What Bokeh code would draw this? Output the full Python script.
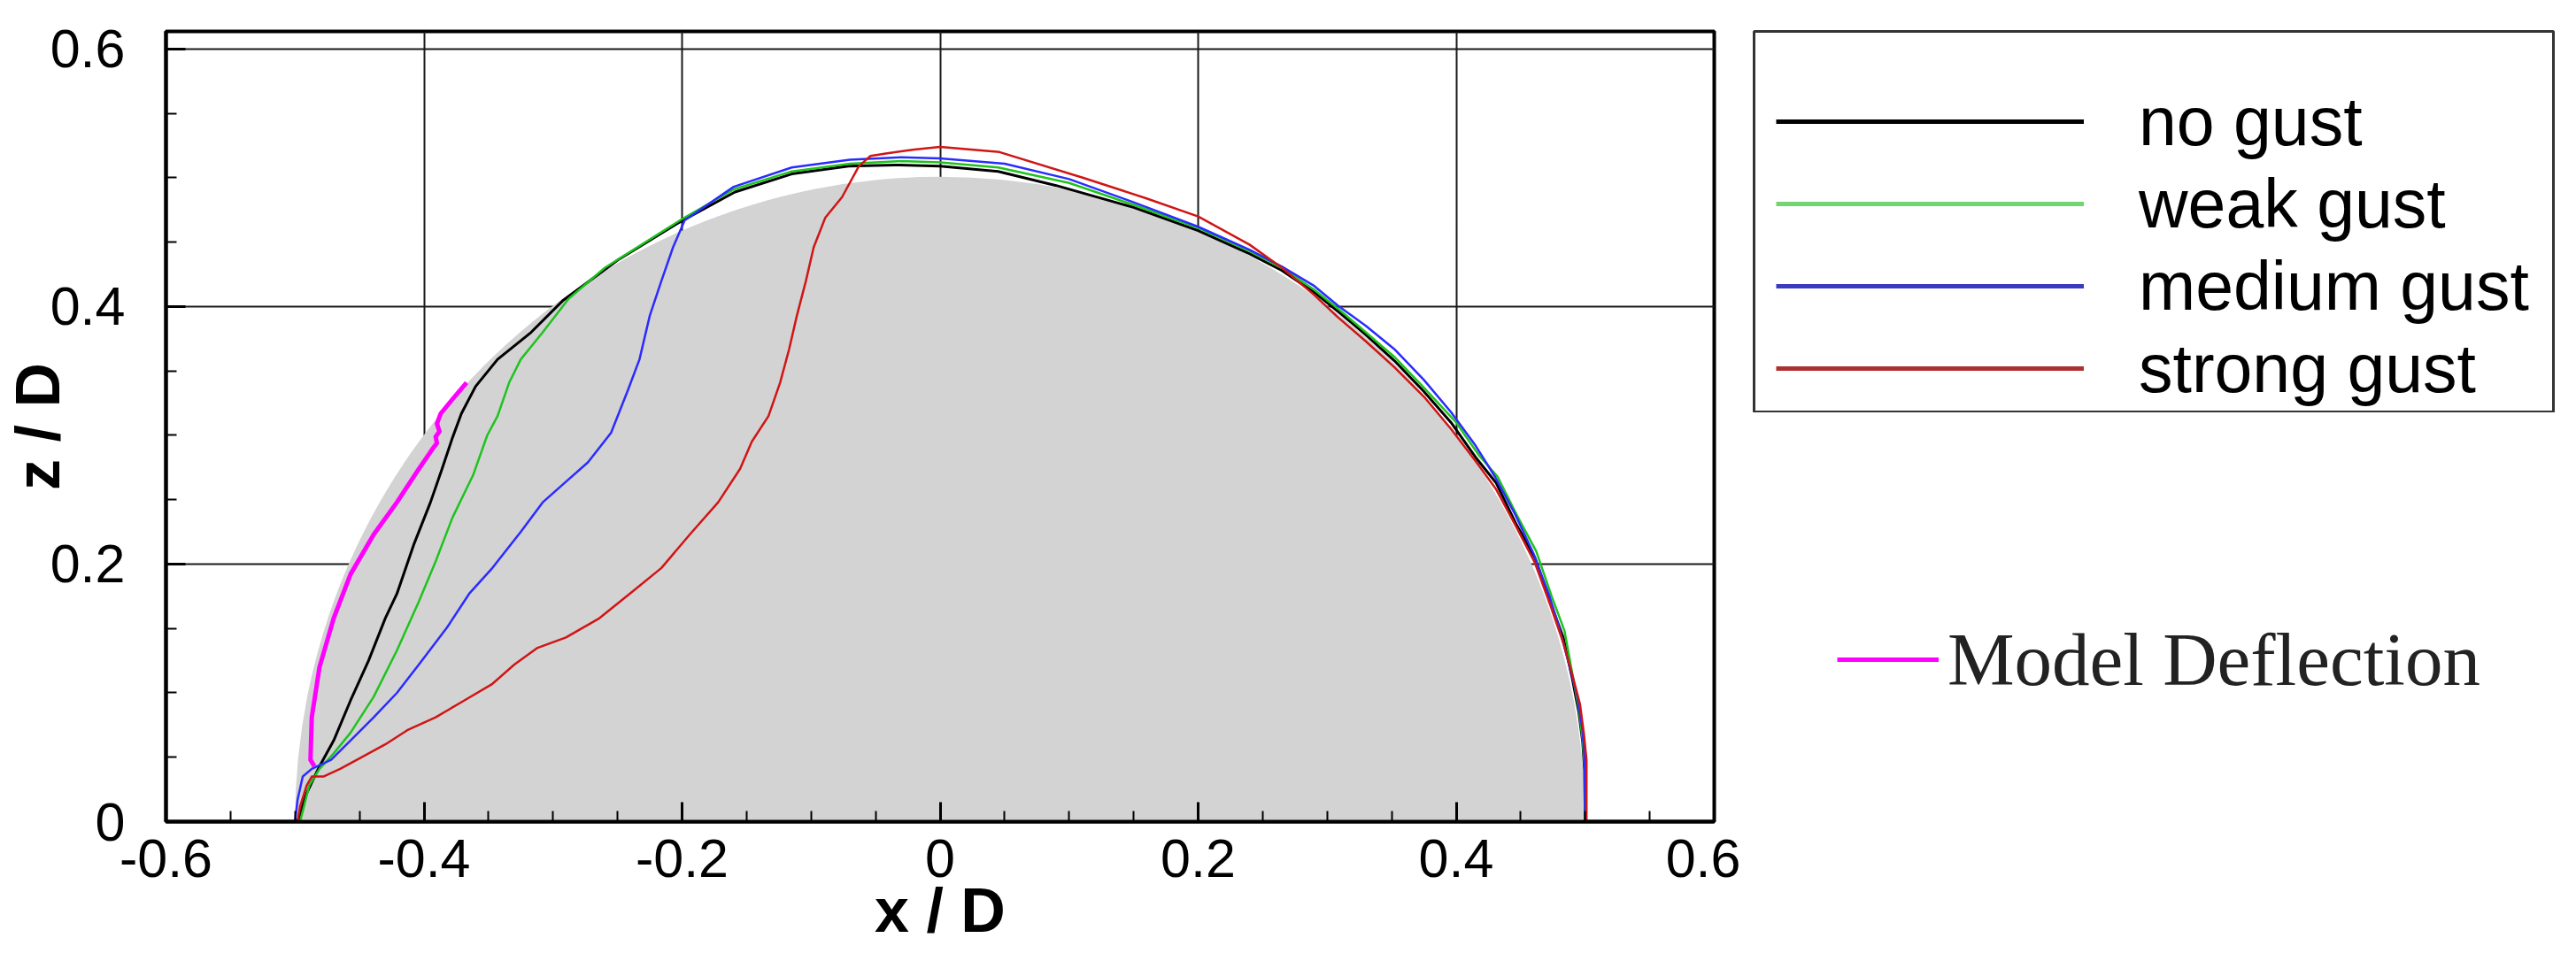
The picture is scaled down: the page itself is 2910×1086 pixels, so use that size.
import numpy as np
from bokeh.plotting import figure
from bokeh.models import Range1d, FixedTicker, Legend, LegendItem
from bokeh.layouts import row, column
from bokeh.embed import file_html
from bokeh.resources import INLINE

# ---------------- data ----------------
x_ticks = [-0.6, -0.4, -0.2, 0, 0.2, 0.4, 0.6]
x_tick_labels = ["-0.6", "-0.4", "-0.2", "0", "0.2", "0.4", "0.6"]
y_ticks = [0, 0.2, 0.4, 0.6]
y_tick_labels = ["0", "0.2", "0.4", "0.6"]
body_radius = 0.5

series_names = ["no gust", "weak gust", "medium gust", "strong gust"]

no_gust_x = [-0.498, -0.491, -0.481, -0.470, -0.457, -0.443, -0.430, -0.421, -0.408, -0.395,
             -0.386, -0.378, -0.371, -0.360, -0.343, -0.317, -0.292, -0.250, -0.203, -0.159,
             -0.115, -0.071, -0.035,
             0.000, 0.045, 0.090, 0.150, 0.200, 0.240, 0.265, 0.290, 0.310, 0.330,
             0.352, 0.375, 0.396, 0.415, 0.431, 0.446, 0.461, 0.473, 0.483, 0.490,
             0.495, 0.498, 0.4995, 0.500]
no_gust_z = [0.000, 0.022, 0.043, 0.063, 0.094, 0.125, 0.158, 0.177, 0.215, 0.248,
             0.274, 0.298, 0.317, 0.338, 0.359, 0.380, 0.405, 0.436, 0.465, 0.489,
             0.503, 0.509, 0.510,
             0.509, 0.505, 0.494, 0.477, 0.459, 0.441, 0.428, 0.411, 0.395, 0.378,
             0.358, 0.334, 0.310, 0.283, 0.263, 0.232, 0.205, 0.170, 0.143, 0.111,
             0.085, 0.062, 0.040, 0.000]

weak_gust_x = [-0.496, -0.489, -0.481, -0.470, -0.457, -0.439, -0.421, -0.404, -0.391, -0.378,
               -0.362, -0.351, -0.343, -0.334, -0.325, -0.308, -0.288, -0.260, -0.200, -0.160,
               -0.115, -0.070, -0.030,
               0.000, 0.045, 0.100, 0.150, 0.200, 0.240, 0.265, 0.290, 0.310, 0.330,
               0.352, 0.375, 0.400, 0.418, 0.432, 0.447, 0.462, 0.474, 0.484, 0.490,
               0.495, 0.498, 0.4998, 0.500]
weak_gust_z = [0.000, 0.028, 0.041, 0.053, 0.069, 0.097, 0.133, 0.171, 0.202, 0.236,
               0.269, 0.300, 0.315, 0.341, 0.359, 0.380, 0.406, 0.430, 0.468, 0.491,
               0.505, 0.511, 0.513,
               0.512, 0.508, 0.496, 0.479, 0.461, 0.443, 0.430, 0.413, 0.397, 0.380,
               0.361, 0.337, 0.310, 0.284, 0.268, 0.238, 0.210, 0.175, 0.148, 0.115,
               0.088, 0.064, 0.040, 0.000]

medium_gust_x = [-0.500, -0.498, -0.494, -0.487, -0.472, -0.457, -0.439, -0.421, -0.404, -0.382,
                 -0.365, -0.347, -0.325, -0.308, -0.290, -0.273, -0.255, -0.242, -0.233, -0.225,
                 -0.216, -0.207, -0.198, -0.160, -0.115, -0.070, -0.030,
                 0.000, 0.050, 0.100, 0.150, 0.200, 0.240, 0.265, 0.290, 0.308, 0.330,
                 0.352, 0.375, 0.396, 0.415, 0.430, 0.446, 0.460, 0.472, 0.480, 0.488,
                 0.494, 0.498, 0.4995, 0.500]
medium_gust_z = [0.000, 0.017, 0.035, 0.041, 0.048, 0.063, 0.081, 0.100, 0.122, 0.151,
                 0.177, 0.197, 0.225, 0.248, 0.264, 0.279, 0.302, 0.335, 0.359, 0.393,
                 0.420, 0.446, 0.467, 0.493, 0.508, 0.514, 0.516,
                 0.515, 0.511, 0.499, 0.481, 0.462, 0.444, 0.431, 0.416, 0.401, 0.385,
                 0.367, 0.343, 0.318, 0.292, 0.268, 0.238, 0.208, 0.176, 0.150, 0.120,
                 0.097, 0.070, 0.048, 0.000]

strong_gust_x = [-0.498, -0.496, -0.491, -0.487, -0.478, -0.465, -0.452, -0.430, -0.413, -0.391,
                 -0.369, -0.347, -0.330, -0.312, -0.290, -0.264, -0.238, -0.216, -0.194, -0.172,
                 -0.155, -0.146, -0.133, -0.124, -0.117, -0.111, -0.104, -0.098, -0.089, -0.076,
                 -0.063, -0.054, -0.041, -0.020,
                 0.000, 0.046, 0.111, 0.160, 0.200, 0.240, 0.265, 0.290, 0.308, 0.330,
                 0.352, 0.375, 0.396, 0.415, 0.431, 0.446, 0.461, 0.473, 0.483, 0.490,
                 0.496, 0.499, 0.501, 0.501]
strong_gust_z = [0.000, 0.012, 0.028, 0.035, 0.035, 0.041, 0.048, 0.060, 0.071, 0.081,
                 0.094, 0.107, 0.122, 0.135, 0.143, 0.158, 0.179, 0.197, 0.223, 0.248,
                 0.274, 0.295, 0.315, 0.341, 0.367, 0.393, 0.420, 0.446, 0.469, 0.485,
                 0.509, 0.517, 0.519, 0.522,
                 0.524, 0.520, 0.500, 0.484, 0.470, 0.448, 0.430, 0.409, 0.392, 0.373,
                 0.353, 0.330, 0.305, 0.280, 0.258, 0.230, 0.201, 0.168, 0.139, 0.114,
                 0.091, 0.068, 0.048, 0.000]

model_label = "Model Deflection"
model_x = [-0.485, -0.488, -0.487, -0.481, -0.470, -0.457, -0.439, -0.421, -0.404, -0.393,
           -0.390, -0.391, -0.388, -0.390, -0.387, -0.378, -0.367]
model_z = [0.043, 0.048, 0.081, 0.120, 0.158, 0.192, 0.223, 0.248, 0.274, 0.290,
           0.294, 0.299, 0.303, 0.309, 0.317, 0.328, 0.341]

# ---------------- styles ----------------
line_colors = ["#000000", "#1ec31e", "#2b2bff", "#d01515"]
swatch_colors = ["#000000", "#72d472", "#3b3bc0", "#ad3030"]
model_color = "#ff00ff"

# ---------------- main figure ----------------
p = figure(x_range=Range1d(-0.6, 0.6), y_range=Range1d(0, 0.6137),
           frame_width=1749, frame_height=893,
           min_border_left=178, min_border_right=30, min_border_top=35, min_border_bottom=142,
           toolbar_location=None, output_backend="svg")
p.background_fill_color = "white"
p.border_fill_color = "white"
p.outline_line_color = "black"
p.outline_line_width = 4

minor_x = [round(v, 2) for v in np.arange(-0.6, 0.6001, 0.05)]
minor_y = [round(v, 2) for v in np.arange(0.0, 0.6001, 0.05)]
p.xaxis.ticker = FixedTicker(ticks=x_ticks, minor_ticks=minor_x)
p.yaxis.ticker = FixedTicker(ticks=y_ticks, minor_ticks=minor_y)
p.xaxis.major_label_overrides = dict(zip(x_ticks, x_tick_labels))
p.yaxis.major_label_overrides = dict(zip(y_ticks, y_tick_labels))

for ax in (p.xaxis[0], p.yaxis[0]):
    ax.axis_line_width = 4
    ax.axis_line_color = "black"
    ax.major_tick_in = 22
    ax.major_tick_out = 0
    ax.minor_tick_in = 12
    ax.minor_tick_out = 0
    ax.major_tick_line_width = 3
    ax.minor_tick_line_width = 2
    ax.major_tick_line_color = "black"
    ax.minor_tick_line_color = "black"
    ax.major_label_text_font = "Liberation Sans"
    ax.major_label_text_font_size = "61px"
    ax.major_label_text_color = "black"
    ax.axis_label_text_font = "Liberation Sans"
    ax.axis_label_text_font_style = "bold"
    ax.axis_label_text_font_size = "70px"
    ax.axis_label_text_color = "black"

p.xaxis.axis_label = "x / D"
p.xaxis.major_label_standoff = 20
p.xaxis.axis_label_standoff = -4
p.yaxis.axis_label = "z / D"
p.yaxis.major_label_standoff = 46
p.yaxis.axis_label_standoff = -28

p.grid.grid_line_color = "#1a1a1a"
p.grid.grid_line_width = 2

# body cross-section (semicircle)
p.wedge(x=0, y=0, radius=body_radius, start_angle=0, end_angle=np.pi,
        fill_color="#d3d3d3", line_color=None)

all_x = [no_gust_x, weak_gust_x, medium_gust_x, strong_gust_x]
all_z = [no_gust_z, weak_gust_z, medium_gust_z, strong_gust_z]
for xs, zs, c in zip(all_x, all_z, line_colors):
    p.line(xs, zs, line_color=c, line_width=3 if c == "#000000" else 2.5,
           line_join="round")
p.line(model_x, model_z, line_color=model_color, line_width=5, line_join="round")

# ---------------- legend box panel ----------------
pl = figure(x_range=Range1d(0, 1), y_range=Range1d(0, 1),
            frame_width=903, frame_height=431,
            min_border_left=15, min_border_right=19, min_border_top=35, min_border_bottom=0,
            x_axis_location=None, y_axis_location=None,
            toolbar_location=None, output_backend="svg")
pl.grid.visible = False
pl.background_fill_color = "white"
pl.border_fill_color = "white"
pl.outline_line_color = "#333333"
pl.outline_line_width = 3

# swatch renderers: their points lie outside the visible range, only the legend shows them
items = []
for name, c in zip(series_names, swatch_colors):
    r = pl.line(x=[5, 6], y=[5, 6], line_color=c, line_width=5)
    items.append(LegendItem(label=name, renderers=[r]))
leg = Legend(items=items, location=(25, 5), orientation="vertical",
             padding=0, margin=0, border_line_alpha=0, background_fill_alpha=0,
             glyph_width=348, glyph_height=90, label_height=90, spacing=3,
             label_standoff=62, label_text_font="Liberation Sans",
             label_text_font_size="77px", label_text_color="black")
pl.add_layout(leg)

# ---------------- model deflection panel ----------------
pm = figure(x_range=Range1d(0, 1), y_range=Range1d(0, 1),
            width=937, height=604, min_border=0,
            x_axis_location=None, y_axis_location=None,
            toolbar_location=None, output_backend="svg")
pm.grid.visible = False
pm.outline_line_color = None
pm.background_fill_color = "white"
pm.border_fill_color = "white"
rm = pm.line(x=[5, 6], y=[5, 6], line_color=model_color, line_width=5)
leg2 = Legend(items=[LegendItem(label=model_label, renderers=[rm])], location=(94, 276),
              padding=0, margin=0, border_line_alpha=0, background_fill_alpha=0,
              glyph_width=115, glyph_height=98, label_height=98, spacing=0,
              label_standoff=10, label_text_font="Liberation Serif",
              label_text_font_size="85px", label_text_color="#222222")
pm.add_layout(leg2)

layout = row(p, column(pl, pm))
open("out.html", "w").write(file_html(layout, INLINE))
